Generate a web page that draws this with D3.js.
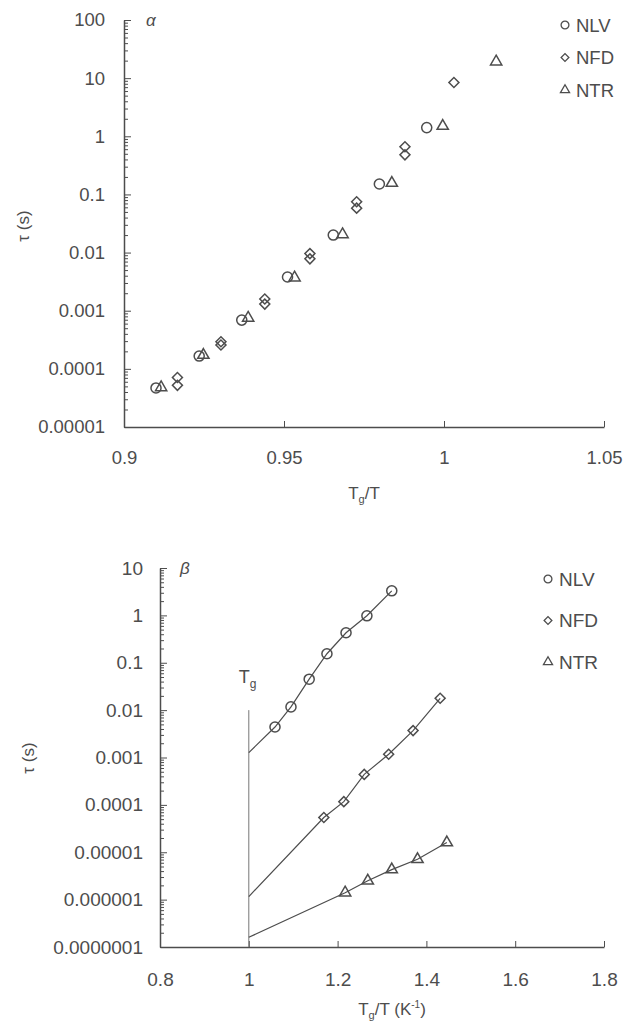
<!DOCTYPE html>
<html>
<head>
<meta charset="utf-8">
<script src="https://cdn.jsdelivr.net/npm/d3@7"></script>
<style>
  body { margin: 0; background: #fff; }
  text { font-family: "Liberation Sans", Arial, sans-serif; fill: #4d4d4d; }
</style>
</head>
<body>
<svg id="chart" width="637" height="1030"></svg>
<script>
// ---- panel alpha data ----
var alphaNLVx = [0.910, 0.9235, 0.9368, 0.9511, 0.9654, 0.9798, 0.9946];
var alphaNLVy = [4.7e-5, 1.66e-4, 6.9e-4, 3.8e-3, 0.020, 0.151, 1.41];
var alphaNFDx = [0.9167, 0.9167, 0.9303, 0.9303, 0.9440, 0.9440, 0.9581, 0.9581, 0.9727, 0.9727, 0.9878, 0.9878, 1.0031];
var alphaNFDy = [7.1e-5, 5.2e-5, 2.93e-4, 2.57e-4, 1.59e-3, 1.30e-3, 9.6e-3, 7.8e-3, 0.075, 0.058, 0.66, 0.48, 8.4];
var alphaNTRx = [0.9116, 0.9248, 0.9388, 0.9533, 0.9683, 0.9837, 0.9996, 1.0163];
var alphaNTRy = [4.8e-5, 1.73e-4, 7.5e-4, 3.7e-3, 0.0205, 0.157, 1.50, 19.2];

var alphaXTicks = [0.9, 0.95, 1, 1.05];
var alphaYTicks = [1e-5, 1e-4, 1e-3, 1e-2, 0.1, 1, 10, 100];
var alphaYLabels = ["0.00001", "0.0001", "0.001", "0.01", "0.1", "1", "10", "100"];

// ---- panel beta data ----
var betaNLVx = [1.059, 1.095, 1.136, 1.176, 1.219, 1.266, 1.322];
var betaNLVy = [0.0044, 0.0117, 0.045, 0.155, 0.43, 0.98, 3.3];
var betaNFDx = [1.169, 1.214, 1.260, 1.315, 1.370, 1.431];
var betaNFDy = [5.4e-5, 1.17e-4, 4.4e-4, 1.17e-3, 3.7e-3, 0.0178];
var betaNTRx = [1.217, 1.268, 1.322, 1.380, 1.446];
var betaNTRy = [1.4e-6, 2.5e-6, 4.3e-6, 7.1e-6, 1.6e-5];
// fitted lines start at Tg (x = 1)
var fitStartX = 1;
var fitStartY = [0.00127, 1.16e-6, 1.6e-7];   // NLV, NFD, NTR
var tgLine = [0.01, 1e-7];

var betaXTicks = [0.8, 1, 1.2, 1.4, 1.6, 1.8];
var betaYTicks = [1e-7, 1e-6, 1e-5, 1e-4, 1e-3, 1e-2, 0.1, 1, 10];
var betaYLabels = ["0.0000001", "0.000001", "0.00001", "0.0001", "0.001", "0.01", "0.1", "1", "10"];

var seriesNames = ["NLV", "NFD", "NTR"];

var ink = "#4d4d4d";
var svg = d3.select("#chart");

function zip(xs, ys) { return xs.map(function(x, i) { return [x, ys[i]]; }); }

function symPath(name, big) {
  if (name == "NLV") return d3.symbol().type(d3.symbolCircle).size(big ? 80 : 48)();
  if (name == "NFD") return d3.symbol().type(d3.symbolSquare).size(big ? 50 : 30)();
  return d3.symbol().type(d3.symbolTriangle).size(big ? 55 : 36)();
}

function drawMarks(g, x, y, pts, name) {
  g.selectAll(null).data(pts).enter().append("path")
    .attr("d", symPath(name, true))
    .attr("transform", function(d) {
      return "translate(" + x(d[0]) + "," + y(d[1]) + ")" + (name == "NFD" ? "rotate(45)" : "");
    })
    .attr("fill", "none").attr("stroke", ink).attr("stroke-width", 1.5);
}

function minorTicks(ticks) {
  var out = [];
  ticks.slice(0, -1).forEach(function(t) {
    for (var k = 2; k < 10; k++) out.push(t * k);
  });
  return out;
}

function panel(o) {
  var g = svg.append("g");
  var x = d3.scaleLinear().domain(o.xDomain).range([o.left, o.right]);
  var y = d3.scaleLog().domain(o.yDomain).range([o.bottom, o.top]);

  // y minor ticks
  g.append("g").attr("transform", "translate(" + o.left + ",0)")
    .call(d3.axisLeft(y).tickValues(minorTicks(o.yTicks)).tickSize(-4).tickFormat(""))
    .call(function(a) { a.select(".domain").remove(); a.selectAll("line").attr("stroke", ink); });
  // y major
  g.append("g").attr("transform", "translate(" + o.left + ",0)")
    .call(d3.axisLeft(y).tickValues(o.yTicks).tickSizeInner(-7).tickSizeOuter(0)
      .tickPadding(o.yPad).tickFormat(function(d, i) { return o.yLabels[i]; }))
    .call(function(a) {
      a.select(".domain").attr("stroke", ink).attr("stroke-width", 1.5);
      a.selectAll("line").attr("stroke", ink);
      a.selectAll("text").style("font-size", o.fs + "px").attr("fill", ink);
    });
  // x axis
  g.append("g").attr("transform", "translate(0," + o.bottom + ")")
    .call(d3.axisBottom(x).tickValues(o.xTicks).tickSizeInner(-6).tickSizeOuter(0)
      .tickPadding(o.xPad).tickFormat(d3.format("")))
    .call(function(a) {
      a.select(".domain").attr("stroke", ink).attr("stroke-width", 1.5);
      a.selectAll("line").attr("stroke", ink);
      a.selectAll("text").style("font-size", o.fs + "px").attr("fill", ink);
    });

  // panel letter
  g.append("text").attr("x", o.left + o.letterDx).attr("y", o.top + 6)
    .style("font-size", "17px").style("font-style", "italic").text(o.letter);

  // y title
  g.append("text").attr("transform", "translate(" + o.yTitleX + "," + o.yTitleY + ") rotate(-90)")
    .attr("text-anchor", "middle").style("font-size", "17px").text("τ (s)");

  // x title
  var xt = g.append("text").attr("x", o.xTitleX).attr("y", o.xTitleY)
    .attr("text-anchor", "middle").style("font-size", "17px");
  xt.append("tspan").text("T");
  xt.append("tspan").attr("dy", 4).style("font-size", "11px").text("g");
  xt.append("tspan").attr("dy", -4).text("/T" + (o.unit ? " (K" : ""));
  if (o.unit) {
    xt.append("tspan").attr("dy", -7).style("font-size", "10px").text("-1");
    xt.append("tspan").attr("dy", 7).text(")");
  }

  // legend
  seriesNames.forEach(function(n, i) {
    var ly = o.legendY + i * o.legendStep;
    g.append("path").attr("d", symPath(n, false))
      .attr("transform", "translate(" + o.legendX + "," + ly + ")" + (n == "NFD" ? "rotate(45)" : ""))
      .attr("fill", "none").attr("stroke", ink).attr("stroke-width", 1.3);
    g.append("text").attr("x", o.legendX + 11).attr("y", ly + 6.5)
      .style("font-size", o.fs + "px").text(n);
  });
  return { g: g, x: x, y: y };
}

// ---- alpha panel ----
var pa = panel({
  xDomain: [0.9, 1.05], yDomain: [1e-5, 100],
  left: 124, right: 604, top: 20, bottom: 427,
  xTicks: alphaXTicks, yTicks: alphaYTicks, yLabels: alphaYLabels,
  yPad: 19, xPad: 24, fs: 18.5, letter: "α", letterDx: 22,
  yTitleX: 29, yTitleY: 226, xTitleX: 364, xTitleY: 499, unit: false,
  legendX: 565, legendY: 25, legendStep: 32.5
});
drawMarks(pa.g, pa.x, pa.y, zip(alphaNLVx, alphaNLVy), "NLV");
drawMarks(pa.g, pa.x, pa.y, zip(alphaNFDx, alphaNFDy), "NFD");
drawMarks(pa.g, pa.x, pa.y, zip(alphaNTRx, alphaNTRy), "NTR");

// ---- beta panel ----
var pb = panel({
  xDomain: [0.8, 1.8], yDomain: [1e-7, 10],
  left: 160, right: 604, top: 568, bottom: 947,
  xTicks: betaXTicks, yTicks: betaYTicks, yLabels: betaYLabels,
  yPad: 17, xPad: 26, fs: 19, letter: "β", letterDx: 20,
  yTitleX: 34, yTitleY: 758, xTitleX: 392, xTitleY: 1015, unit: true,
  legendX: 548, legendY: 579, legendStep: 41.5
});

// Tg marker line
pb.g.append("line")
  .attr("x1", pb.x(fitStartX)).attr("x2", pb.x(fitStartX))
  .attr("y1", pb.y(tgLine[0])).attr("y2", pb.y(tgLine[1]))
  .attr("stroke", "#777").attr("stroke-width", 1);
var tg = pb.g.append("text").attr("x", pb.x(fitStartX) - 10).attr("y", 683).style("font-size", "18px");
tg.append("tspan").text("T");
tg.append("tspan").attr("dy", 5).style("font-size", "12px").text("g");

var line = d3.line().x(function(d) { return pb.x(d[0]); }).y(function(d) { return pb.y(d[1]); });
var betaSets = [zip(betaNLVx, betaNLVy), zip(betaNFDx, betaNFDy), zip(betaNTRx, betaNTRy)];
betaSets.forEach(function(pts, i) {
  pb.g.append("path").datum([[fitStartX, fitStartY[i]]].concat(pts))
    .attr("d", line).attr("fill", "none").attr("stroke", ink).attr("stroke-width", 1.2);
  drawMarks(pb.g, pb.x, pb.y, pts, seriesNames[i]);
});
</script>
</body>
</html>
